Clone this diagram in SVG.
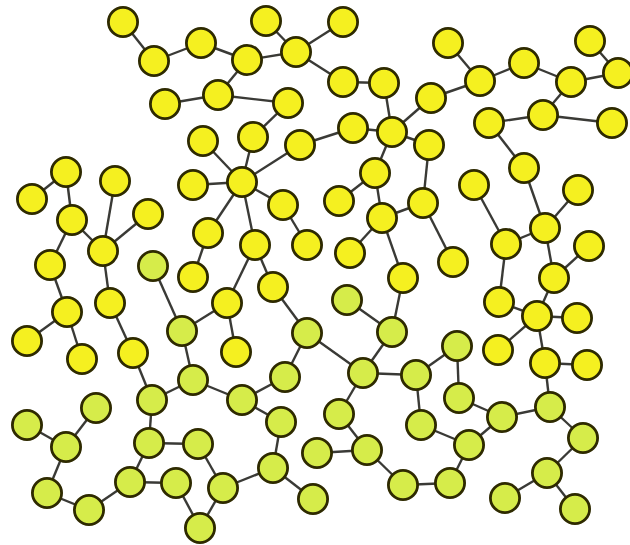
<svg xmlns="http://www.w3.org/2000/svg" width="630" height="545" viewBox="0 0 630 545">
<style>
.e{stroke:#3a3a36;stroke-width:2.4;fill:none}
.y{fill:#f5f020;stroke:#2e2a00;stroke-width:2.8}
.g{fill:#d6ec4a;stroke:#2e2a00;stroke-width:2.8}
circle{r:14.6px}
</style>
<rect width="630" height="545" fill="#ffffff"/>
<g id="edges" class="e">
<line x1="123" y1="22" x2="154" y2="61"/>
<line x1="154" y1="61" x2="201" y2="43"/>
<line x1="165" y1="104" x2="218" y2="95"/>
<line x1="203" y1="141" x2="242" y2="182"/>
<line x1="201" y1="43" x2="247" y2="60"/>
<line x1="247" y1="60" x2="296" y2="52"/>
<line x1="266" y1="21" x2="296" y2="52"/>
<line x1="343" y1="22" x2="296" y2="52"/>
<line x1="296" y1="52" x2="343" y2="82"/>
<line x1="343" y1="82" x2="384" y2="83"/>
<line x1="384" y1="83" x2="392" y2="132"/>
<line x1="392" y1="132" x2="353" y2="128"/>
<line x1="353" y1="128" x2="300" y2="145"/>
<line x1="392" y1="132" x2="431" y2="98"/>
<line x1="392" y1="132" x2="429" y2="145"/>
<line x1="392" y1="132" x2="375" y2="173"/>
<line x1="247" y1="60" x2="218" y2="95"/>
<line x1="218" y1="95" x2="288" y2="103"/>
<line x1="288" y1="103" x2="253" y2="137"/>
<line x1="253" y1="137" x2="242" y2="182"/>
<line x1="300" y1="145" x2="242" y2="182"/>
<line x1="193" y1="185" x2="242" y2="182"/>
<line x1="375" y1="173" x2="339" y2="201"/>
<line x1="448" y1="43" x2="480" y2="81"/>
<line x1="480" y1="81" x2="524" y2="63"/>
<line x1="524" y1="63" x2="571" y2="82"/>
<line x1="571" y1="82" x2="618" y2="73"/>
<line x1="590" y1="41" x2="618" y2="73"/>
<line x1="571" y1="82" x2="543" y2="115"/>
<line x1="543" y1="115" x2="489" y2="123"/>
<line x1="543" y1="115" x2="612" y2="123"/>
<line x1="489" y1="123" x2="524" y2="168"/>
<line x1="480" y1="81" x2="431" y2="98"/>
<line x1="429" y1="145" x2="423" y2="203"/>
<line x1="524" y1="168" x2="545" y2="228"/>
<line x1="66" y1="172" x2="72" y2="220"/>
<line x1="32" y1="199" x2="66" y2="172"/>
<line x1="72" y1="220" x2="103" y2="251"/>
<line x1="115" y1="181" x2="103" y2="251"/>
<line x1="148" y1="214" x2="103" y2="251"/>
<line x1="72" y1="220" x2="50" y2="265"/>
<line x1="103" y1="251" x2="110" y2="303"/>
<line x1="50" y1="265" x2="67" y2="312"/>
<line x1="67" y1="312" x2="27" y2="341"/>
<line x1="67" y1="312" x2="82" y2="359"/>
<line x1="110" y1="303" x2="133" y2="353"/>
<line x1="153" y1="266" x2="182" y2="331"/>
<line x1="182" y1="331" x2="227" y2="303"/>
<line x1="182" y1="331" x2="193" y2="380"/>
<line x1="208" y1="233" x2="193" y2="277"/>
<line x1="242" y1="182" x2="283" y2="205"/>
<line x1="242" y1="182" x2="208" y2="233"/>
<line x1="242" y1="182" x2="255" y2="245"/>
<line x1="283" y1="205" x2="307" y2="245"/>
<line x1="255" y1="245" x2="227" y2="303"/>
<line x1="255" y1="245" x2="273" y2="287"/>
<line x1="273" y1="287" x2="307" y2="333"/>
<line x1="227" y1="303" x2="236" y2="352"/>
<line x1="375" y1="173" x2="382" y2="218"/>
<line x1="382" y1="218" x2="423" y2="203"/>
<line x1="382" y1="218" x2="350" y2="253"/>
<line x1="382" y1="218" x2="403" y2="278"/>
<line x1="403" y1="278" x2="392" y2="332"/>
<line x1="347" y1="300" x2="392" y2="332"/>
<line x1="392" y1="332" x2="363" y2="373"/>
<line x1="307" y1="333" x2="363" y2="373"/>
<line x1="307" y1="333" x2="285" y2="377"/>
<line x1="423" y1="203" x2="453" y2="262"/>
<line x1="474" y1="185" x2="506" y2="244"/>
<line x1="578" y1="190" x2="545" y2="228"/>
<line x1="545" y1="228" x2="506" y2="244"/>
<line x1="545" y1="228" x2="554" y2="278"/>
<line x1="589" y1="246" x2="554" y2="278"/>
<line x1="506" y1="244" x2="499" y2="302"/>
<line x1="554" y1="278" x2="537" y2="316"/>
<line x1="499" y1="302" x2="537" y2="316"/>
<line x1="537" y1="316" x2="577" y2="318"/>
<line x1="537" y1="316" x2="498" y2="350"/>
<line x1="537" y1="316" x2="545" y2="363"/>
<line x1="545" y1="363" x2="587" y2="365"/>
<line x1="457" y1="346" x2="416" y2="375"/>
<line x1="27" y1="425" x2="66" y2="447"/>
<line x1="96" y1="408" x2="66" y2="447"/>
<line x1="66" y1="447" x2="47" y2="493"/>
<line x1="47" y1="493" x2="89" y2="510"/>
<line x1="89" y1="510" x2="130" y2="482"/>
<line x1="130" y1="482" x2="149" y2="443"/>
<line x1="149" y1="443" x2="152" y2="400"/>
<line x1="152" y1="400" x2="133" y2="353"/>
<line x1="152" y1="400" x2="193" y2="380"/>
<line x1="193" y1="380" x2="242" y2="400"/>
<line x1="149" y1="443" x2="198" y2="444"/>
<line x1="130" y1="482" x2="176" y2="483"/>
<line x1="176" y1="483" x2="200" y2="528"/>
<line x1="200" y1="528" x2="223" y2="488"/>
<line x1="198" y1="444" x2="223" y2="488"/>
<line x1="242" y1="400" x2="285" y2="377"/>
<line x1="242" y1="400" x2="281" y2="422"/>
<line x1="281" y1="422" x2="273" y2="468"/>
<line x1="273" y1="468" x2="223" y2="488"/>
<line x1="273" y1="468" x2="313" y2="499"/>
<line x1="363" y1="373" x2="416" y2="375"/>
<line x1="363" y1="373" x2="339" y2="414"/>
<line x1="339" y1="414" x2="367" y2="450"/>
<line x1="317" y1="453" x2="367" y2="450"/>
<line x1="367" y1="450" x2="403" y2="485"/>
<line x1="416" y1="375" x2="421" y2="425"/>
<line x1="457" y1="346" x2="459" y2="398"/>
<line x1="459" y1="398" x2="502" y2="417"/>
<line x1="421" y1="425" x2="469" y2="445"/>
<line x1="502" y1="417" x2="469" y2="445"/>
<line x1="502" y1="417" x2="550" y2="407"/>
<line x1="550" y1="407" x2="545" y2="363"/>
<line x1="550" y1="407" x2="583" y2="438"/>
<line x1="583" y1="438" x2="547" y2="473"/>
<line x1="547" y1="473" x2="505" y2="498"/>
<line x1="547" y1="473" x2="575" y2="509"/>
<line x1="469" y1="445" x2="450" y2="483"/>
<line x1="450" y1="483" x2="403" y2="485"/>
</g>
<g id="y1"><circle class="y" cx="123" cy="22" r="14.6"/></g>
<g id="y2"><circle class="y" cx="154" cy="61" r="14.6"/></g>
<g id="y3"><circle class="y" cx="201" cy="43" r="14.6"/></g>
<g id="y4"><circle class="y" cx="165" cy="104" r="14.6"/></g>
<g id="y5"><circle class="y" cx="218" cy="95" r="14.6"/></g>
<g id="y6"><circle class="y" cx="203" cy="141" r="14.6"/></g>
<g id="y7"><circle class="y" cx="266" cy="21" r="14.6"/></g>
<g id="y8"><circle class="y" cx="343" cy="22" r="14.6"/></g>
<g id="y9"><circle class="y" cx="296" cy="52" r="14.6"/></g>
<g id="y10"><circle class="y" cx="247" cy="60" r="14.6"/></g>
<g id="y11"><circle class="y" cx="288" cy="103" r="14.6"/></g>
<g id="y12"><circle class="y" cx="253" cy="137" r="14.6"/></g>
<g id="y13"><circle class="y" cx="300" cy="145" r="14.6"/></g>
<g id="y14"><circle class="y" cx="343" cy="82" r="14.6"/></g>
<g id="y15"><circle class="y" cx="384" cy="83" r="14.6"/></g>
<g id="y16"><circle class="y" cx="353" cy="128" r="14.6"/></g>
<g id="y17"><circle class="y" cx="392" cy="132" r="14.6"/></g>
<g id="y18"><circle class="y" cx="375" cy="173" r="14.6"/></g>
<g id="y19"><circle class="y" cx="242" cy="182" r="14.6"/></g>
<g id="y20"><circle class="y" cx="193" cy="185" r="14.6"/></g>
<g id="y21"><circle class="y" cx="448" cy="43" r="14.6"/></g>
<g id="y22"><circle class="y" cx="480" cy="81" r="14.6"/></g>
<g id="y23"><circle class="y" cx="524" cy="63" r="14.6"/></g>
<g id="y24"><circle class="y" cx="571" cy="82" r="14.6"/></g>
<g id="y25"><circle class="y" cx="590" cy="41" r="14.6"/></g>
<g id="y26"><circle class="y" cx="618" cy="73" r="14.6"/></g>
<g id="y27"><circle class="y" cx="431" cy="98" r="14.6"/></g>
<g id="y28"><circle class="y" cx="489" cy="123" r="14.6"/></g>
<g id="y29"><circle class="y" cx="543" cy="115" r="14.6"/></g>
<g id="y30"><circle class="y" cx="612" cy="123" r="14.6"/></g>
<g id="y31"><circle class="y" cx="429" cy="145" r="14.6"/></g>
<g id="y32"><circle class="y" cx="524" cy="168" r="14.6"/></g>
<g id="y33"><circle class="y" cx="474" cy="185" r="14.6"/></g>
<g id="y34"><circle class="y" cx="578" cy="190" r="14.6"/></g>
<g id="y35"><circle class="y" cx="66" cy="172" r="14.6"/></g>
<g id="y36"><circle class="y" cx="115" cy="181" r="14.6"/></g>
<g id="y37"><circle class="y" cx="32" cy="199" r="14.6"/></g>
<g id="y38"><circle class="y" cx="72" cy="220" r="14.6"/></g>
<g id="y39"><circle class="y" cx="148" cy="214" r="14.6"/></g>
<g id="y40"><circle class="y" cx="103" cy="251" r="14.6"/></g>
<g id="y41"><circle class="y" cx="50" cy="265" r="14.6"/></g>
<g id="y42"><circle class="y" cx="208" cy="233" r="14.6"/></g>
<g id="y43"><circle class="y" cx="193" cy="277" r="14.6"/></g>
<g id="y44"><circle class="y" cx="67" cy="312" r="14.6"/></g>
<g id="y45"><circle class="y" cx="110" cy="303" r="14.6"/></g>
<g id="y46"><circle class="y" cx="27" cy="341" r="14.6"/></g>
<g id="y47"><circle class="y" cx="82" cy="359" r="14.6"/></g>
<g id="y48"><circle class="y" cx="133" cy="353" r="14.6"/></g>
<g id="y49"><circle class="y" cx="283" cy="205" r="14.6"/></g>
<g id="y50"><circle class="y" cx="255" cy="245" r="14.6"/></g>
<g id="y51"><circle class="y" cx="307" cy="245" r="14.6"/></g>
<g id="y52"><circle class="y" cx="339" cy="201" r="14.6"/></g>
<g id="y53"><circle class="y" cx="382" cy="218" r="14.6"/></g>
<g id="y54"><circle class="y" cx="423" cy="203" r="14.6"/></g>
<g id="y55"><circle class="y" cx="350" cy="253" r="14.6"/></g>
<g id="y56"><circle class="y" cx="273" cy="287" r="14.6"/></g>
<g id="y57"><circle class="y" cx="403" cy="278" r="14.6"/></g>
<g id="y58"><circle class="y" cx="227" cy="303" r="14.6"/></g>
<g id="y59"><circle class="y" cx="236" cy="352" r="14.6"/></g>
<g id="y60"><circle class="y" cx="453" cy="262" r="14.6"/></g>
<g id="y61"><circle class="y" cx="545" cy="228" r="14.6"/></g>
<g id="y62"><circle class="y" cx="506" cy="244" r="14.6"/></g>
<g id="y63"><circle class="y" cx="589" cy="246" r="14.6"/></g>
<g id="y64"><circle class="y" cx="554" cy="278" r="14.6"/></g>
<g id="y65"><circle class="y" cx="499" cy="302" r="14.6"/></g>
<g id="y66"><circle class="y" cx="537" cy="316" r="14.6"/></g>
<g id="y67"><circle class="y" cx="577" cy="318" r="14.6"/></g>
<g id="y68"><circle class="y" cx="498" cy="350" r="14.6"/></g>
<g id="y69"><circle class="y" cx="545" cy="363" r="14.6"/></g>
<g id="y70"><circle class="y" cx="587" cy="365" r="14.6"/></g>
<g id="g1"><circle class="g" cx="153" cy="266" r="14.6"/></g>
<g id="g2"><circle class="g" cx="182" cy="331" r="14.6"/></g>
<g id="g3"><circle class="g" cx="193" cy="380" r="14.6"/></g>
<g id="g4"><circle class="g" cx="152" cy="400" r="14.6"/></g>
<g id="g5"><circle class="g" cx="149" cy="443" r="14.6"/></g>
<g id="g6"><circle class="g" cx="198" cy="444" r="14.6"/></g>
<g id="g7"><circle class="g" cx="130" cy="482" r="14.6"/></g>
<g id="g8"><circle class="g" cx="176" cy="483" r="14.6"/></g>
<g id="g9"><circle class="g" cx="200" cy="528" r="14.6"/></g>
<g id="g10"><circle class="g" cx="223" cy="488" r="14.6"/></g>
<g id="g11"><circle class="g" cx="273" cy="468" r="14.6"/></g>
<g id="g12"><circle class="g" cx="313" cy="499" r="14.6"/></g>
<g id="g13"><circle class="g" cx="281" cy="422" r="14.6"/></g>
<g id="g14"><circle class="g" cx="242" cy="400" r="14.6"/></g>
<g id="g15"><circle class="g" cx="285" cy="377" r="14.6"/></g>
<g id="g16"><circle class="g" cx="307" cy="333" r="14.6"/></g>
<g id="g17"><circle class="g" cx="347" cy="300" r="14.6"/></g>
<g id="g18"><circle class="g" cx="392" cy="332" r="14.6"/></g>
<g id="g19"><circle class="g" cx="363" cy="373" r="14.6"/></g>
<g id="g20"><circle class="g" cx="416" cy="375" r="14.6"/></g>
<g id="g21"><circle class="g" cx="339" cy="414" r="14.6"/></g>
<g id="g22"><circle class="g" cx="367" cy="450" r="14.6"/></g>
<g id="g23"><circle class="g" cx="317" cy="453" r="14.6"/></g>
<g id="g24"><circle class="g" cx="403" cy="485" r="14.6"/></g>
<g id="g25"><circle class="g" cx="450" cy="483" r="14.6"/></g>
<g id="g26"><circle class="g" cx="469" cy="445" r="14.6"/></g>
<g id="g27"><circle class="g" cx="421" cy="425" r="14.6"/></g>
<g id="g28"><circle class="g" cx="459" cy="398" r="14.6"/></g>
<g id="g29"><circle class="g" cx="502" cy="417" r="14.6"/></g>
<g id="g30"><circle class="g" cx="550" cy="407" r="14.6"/></g>
<g id="g31"><circle class="g" cx="583" cy="438" r="14.6"/></g>
<g id="g32"><circle class="g" cx="547" cy="473" r="14.6"/></g>
<g id="g33"><circle class="g" cx="505" cy="498" r="14.6"/></g>
<g id="g34"><circle class="g" cx="575" cy="509" r="14.6"/></g>
<g id="g35"><circle class="g" cx="457" cy="346" r="14.6"/></g>
<g id="g36"><circle class="g" cx="96" cy="408" r="14.6"/></g>
<g id="g37"><circle class="g" cx="27" cy="425" r="14.6"/></g>
<g id="g38"><circle class="g" cx="66" cy="447" r="14.6"/></g>
<g id="g39"><circle class="g" cx="47" cy="493" r="14.6"/></g>
<g id="g40"><circle class="g" cx="89" cy="510" r="14.6"/></g>
</svg>
